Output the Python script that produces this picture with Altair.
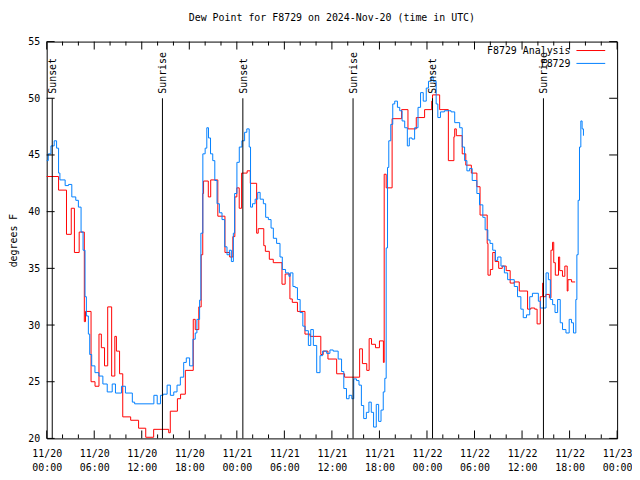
import altair as alt
import pandas as pd

# hours since 2024-11-20 00:00 UTC, dew point (F)
red_h = [0.0, 1.5, 2.5, 3.1, 3.5, 4.1, 4.75, 4.9, 5.6, 6.1, 6.6, 6.9, 7.3, 7.7, 8.2, 8.6, 8.8, 9.2, 9.6,
         10.6, 11.6, 12.5, 13.5, 15.4, 15.6, 16.5, 16.9, 17.5, 18.5, 18.75, 19.2, 19.5, 19.7, 19.8, 20.4,
         20.7, 21.6, 22.5, 23.1, 23.5, 23.75, 24.0, 24.3, 24.6, 25.3, 25.7, 26.5, 26.7, 27.4, 27.6, 28.1,
         28.6, 29.7, 30.1, 30.7, 31.0, 31.65, 32.6, 33.25, 34.6, 34.9, 35.5, 36.6, 37.6, 39.5, 39.85,
         40.4, 40.7, 41.0, 41.5, 42.0, 42.5, 42.6, 42.85, 43.6, 44.8, 45.6, 46.65, 47.7, 48.6, 48.7, 49.6,
         50.7, 51.4, 51.5, 51.7, 52.45, 52.9, 53.6, 54.3, 54.7, 55.6, 55.7, 56.0, 56.3, 56.6, 57.05, 57.5,
         58.0, 58.5, 59.0, 59.65, 60.7, 61.1, 61.6, 61.9, 62.3, 62.6, 62.7, 63.0, 63.45, 63.65, 63.85,
         64.0, 64.2, 64.6, 64.75, 65.1, 65.4, 65.7, 65.8, 66.25, 66.7]
red_v = [43.1, 41.9, 38.0, 40.3, 36.4, 38.2, 30.3, 31.2, 25.0, 24.6, 29.2, 28.0, 26.4, 31.6, 25.5, 29.0, 27.7,
         25.7, 21.9, 21.6, 20.9, 20.1, 20.8, 20.5, 22.4, 23.5, 23.9, 26.0, 30.5, 29.6, 31.6, 36.2, 41.6,
         42.7, 41.3, 42.8, 39.6, 36.4, 36.0, 37.8, 41.3, 42.1, 40.3, 43.4, 43.6, 42.5, 38.1, 38.5, 37.0,
         36.5, 35.8, 35.5, 33.6, 34.5, 32.3, 32.0, 31.2, 29.2, 29.0, 27.4, 27.7, 27.0, 25.7, 25.4, 27.9,
         26.6, 26.0, 28.8, 28.3, 28.0, 28.6, 26.7, 43.3, 42.1, 48.2, 49.0, 47.3, 48.3, 49.0, 49.75, 50.3,
         49.0, 44.5, 46.6, 47.3, 46.7, 45.1, 44.1, 43.4, 42.2, 39.7, 37.2, 34.4, 34.9, 36.4, 35.6, 35.0,
         35.2, 34.8, 33.7, 33.8, 33.0, 31.4, 31.5, 31.4, 30.1, 32.5, 33.7, 32.5, 32.7, 32.4, 36.6, 37.3,
         35.5, 34.4, 36.0, 34.8, 34.3, 35.2, 33.0, 34.0, 33.8, 33.8]

blue_h = [0.0, 0.2, 0.54, 0.95, 1.25, 1.5, 1.67, 2.33, 2.76, 3.17, 3.67, 4.0, 4.34, 4.59, 4.84, 5.01, 5.26,
          5.43, 5.68, 6.09, 6.59, 7.09, 7.64, 8.27, 8.68, 9.44, 9.94, 10.81, 11.1, 13.53, 13.95, 14.36,
          14.7, 15.2, 15.61, 16.04, 16.45, 16.87, 17.29, 17.62, 18.04, 18.46, 18.75, 18.96, 19.3, 19.46,
          19.71, 20.0, 20.21, 20.42, 20.68, 20.96, 21.22, 21.5, 21.8, 22.13, 22.47, 22.76, 23.06, 23.31,
          23.56, 23.72, 24.01, 24.31, 24.64, 24.98, 25.26, 25.56, 25.73, 25.98, 26.31, 26.64, 26.94,
          27.35, 27.64, 27.98, 28.32, 28.61, 29.02, 29.45, 29.74, 30.15, 30.57, 30.74, 31.08, 31.37,
          31.65, 31.99, 32.33, 32.62, 33.03, 33.33, 33.66, 34.08, 34.5, 34.83, 35.34, 35.75, 36.16,
          36.79, 37.22, 37.5, 37.84, 38.17, 38.51, 38.76, 39.1, 39.42, 39.72, 40.01, 40.35, 40.67,
          40.97, 41.26, 41.6, 41.9, 42.2, 42.48, 42.68, 42.85, 43.02, 43.18, 43.43, 43.68, 43.93, 44.27,
          44.56, 44.86, 45.19, 45.52, 45.77, 46.11, 46.44, 46.87, 47.19, 47.53, 47.91, 48.19, 48.53,
          48.78, 49.16, 49.37, 49.7, 50.2, 51.04, 51.5, 52.13, 52.45, 52.75, 53.04, 53.38, 53.71, 54.3,
          54.63, 55.05, 55.34, 55.68, 55.96, 56.3, 56.64, 56.93, 57.34, 57.77, 58.18, 59.02, 59.43,
          59.85, 60.15, 60.56, 60.97, 61.31, 62.06, 62.31, 63.03, 63.32, 63.57, 63.86, 64.16, 64.49,
          64.82, 65.11, 65.54, 65.95, 66.24, 66.49, 66.79, 66.92, 67.08, 67.25, 67.42, 67.58, 67.75]
blue_v = [44.5, 45.1, 45.8, 46.25, 45.6, 43.4, 42.8, 42.3, 42.4, 41.3, 41.0, 40.4, 38.2, 36.6, 32.5, 30.8,
          29.2, 27.4, 26.4, 25.8, 25.5, 24.8, 24.1, 24.8, 24.0, 24.6, 24.0, 23.2, 23.05, 23.8, 23.05, 23.8,
          23.9, 24.7, 23.8, 24.1, 24.7, 25.4, 26.7, 27.1, 26.4, 28.75, 29.3, 30.5, 32.2, 38.1, 45.1, 45.6,
          47.4, 46.5, 45.1, 44.5, 42.75, 40.7, 39.9, 39.3, 36.9, 36.2, 36.6, 35.6, 38.1, 41.6, 44.35, 45.7,
          46.25, 47.0, 47.3, 45.7, 40.4, 40.7, 41.1, 41.7, 41.1, 40.7, 39.5, 39.3, 38.55, 37.65, 37.2,
          36.0, 34.9, 34.6, 34.3, 34.6, 33.4, 33.3, 32.25, 31.1, 29.9, 29.5, 28.2, 29.6, 28.2, 25.8, 27.3,
          27.7, 27.5, 27.8, 27.7, 27.0, 25.9, 24.4, 23.5, 23.8, 23.5, 25.25, 25.1, 24.7, 22.9, 21.75,
          22.3, 23.2, 22.3, 21.0, 23.0, 21.5, 22.5, 24.1, 25.3, 36.8, 43.9, 46.25, 47.7, 49.5, 49.75,
          49.2, 48.9, 48.0, 47.4, 45.8, 46.5, 46.4, 47.4, 49.2, 50.5, 49.75, 50.9, 51.5, 51.9, 51.5,
          49.5, 48.3, 48.8, 48.9, 48.8, 47.85, 47.4, 45.7, 44.5, 43.6, 43.8, 42.75, 41.6, 40.6, 39.5,
          38.4, 37.5, 37.2, 36.6, 35.7, 36.0, 35.2, 34.6, 34.0, 33.4, 32.5, 31.4, 30.65, 30.9, 32.5,
          32.8, 32.1, 31.5, 34.6, 34.0, 32.25, 31.8, 31.1, 32.25, 30.2, 29.6, 29.3, 30.5, 30.2, 29.3,
          32.25, 36.2, 41.0, 45.7, 48.0, 47.3, 46.7]

sun_h = [0.70, 14.61, 24.76, 38.67, 48.70, 62.70]
sun_label = ["Sunset", "Sunrise", "Sunset", "Sunrise", "Sunset", "Sunrise"]

x_major = list(range(0, 73, 6))
x_minor = [h for h in range(0, 73, 2) if h % 6]
y_major = list(range(20, 56, 5))

legend_names = ["F8729 Analysis", "F8729"]
legend_colors = ["#ff0000", "#0080ff"]

FONT = "DejaVu Sans Mono"
W, H = 575, 400
xs = alt.Scale(domain=[0, 72], nice=False, zero=False)
ys = alt.Scale(domain=[20, 55], nice=False, zero=False)

red_df = pd.DataFrame({"h": red_h, "v": red_v})
blue_df = pd.DataFrame({"h": blue_h, "v": blue_v})
sun_df = pd.DataFrame({"h": sun_h, "label": sun_label})
xmaj_df = pd.DataFrame({"h": x_major})
xmin_df = pd.DataFrame({"h": x_minor})
ymaj_df = pd.DataFrame({"v": y_major})

label_expr = ("['11/' + (20 + floor(datum.value / 24)), "
              "(datum.value % 24 < 10 ? '0' : '') + (datum.value % 24) + ':00']")

x_axis = alt.Axis(values=x_major, ticks=False, domain=False, grid=False, labelExpr=label_expr,
                  labelFont=FONT, labelFontSize=10, labelColor="black", labelPadding=10,
                  labelLineHeight=14, labelFlush=False, labelOverlap=False, title=None)
y_axis = alt.Axis(values=y_major, ticks=False, domain=False, grid=False, labelFont=FONT,
                  labelFontSize=10, labelColor="black", labelPadding=7, title="degrees F",
                  titleFont=FONT, titleFontSize=10, titleFontWeight="normal", titleColor="black",
                  titlePadding=9)

X = lambda: alt.X("h:Q", scale=xs, title=None)
Y = lambda: alt.Y("v:Q", scale=ys, title="degrees F")

red_line = alt.Chart(red_df).mark_line(interpolate="step-after", color="#ff0000", strokeWidth=1).encode(
    x=alt.X("h:Q", scale=xs, axis=x_axis, title=None),
    y=alt.Y("v:Q", scale=ys, axis=y_axis, title="degrees F"),
)
blue_line = alt.Chart(blue_df).mark_line(interpolate="step-after", color="#0080ff", strokeWidth=1).encode(
    x=X(), y=Y(),
)

sun_rules = alt.Chart(sun_df).mark_rule(color="black", strokeWidth=1).encode(
    x=X(), y=alt.datum(50), y2=alt.datum(20),
)
sun_text = alt.Chart(sun_df).mark_text(angle=270, align="left", baseline="middle", font=FONT,
                                        fontSize=10, color="black", dy=1).encode(
    x=X(), y=alt.datum(50.4), text="label:N",
)

bot_major = alt.Chart(xmaj_df).mark_rule(color="black").encode(x=X(), y=alt.value(H), y2=alt.value(H - 8))
top_major = alt.Chart(xmaj_df).mark_rule(color="black").encode(x=X(), y=alt.value(0), y2=alt.value(8))
bot_minor = alt.Chart(xmin_df).mark_rule(color="black").encode(x=X(), y=alt.value(H), y2=alt.value(H - 4))
top_minor = alt.Chart(xmin_df).mark_rule(color="black").encode(x=X(), y=alt.value(0), y2=alt.value(4))
left_major = alt.Chart(ymaj_df).mark_rule(color="black").encode(y=Y(), x=alt.value(0), x2=alt.value(8))
right_major = alt.Chart(ymaj_df).mark_rule(color="black").encode(y=Y(), x=alt.value(W), x2=alt.value(W - 8))

leg_df = pd.DataFrame({"name": legend_names, "color": legend_colors, "row": [0, 1]})
leg_text0 = alt.Chart(leg_df[leg_df.row == 0]).mark_text(
    align="right", baseline="middle", font=FONT, fontSize=10, color="black").encode(
    x=alt.value(528), y=alt.value(10), text="name:N")
leg_text1 = alt.Chart(leg_df[leg_df.row == 1]).mark_text(
    align="right", baseline="middle", font=FONT, fontSize=10, color="black").encode(
    x=alt.value(528), y=alt.value(23), text="name:N")
leg_line0 = alt.Chart(leg_df[leg_df.row == 0]).mark_rule(color=legend_colors[0]).encode(
    x=alt.value(534), x2=alt.value(563), y=alt.value(9))
leg_line1 = alt.Chart(leg_df[leg_df.row == 1]).mark_rule(color=legend_colors[1]).encode(
    x=alt.value(534), x2=alt.value(563), y=alt.value(22))

chart = alt.layer(
    red_line, blue_line, sun_rules, sun_text,
    bot_major, top_major, bot_minor, top_minor, left_major, right_major,
    leg_text0, leg_text1, leg_line0, leg_line1,
).properties(
    width=W, height=H,
    title=alt.TitleParams("Dew Point for F8729 on 2024-Nov-20 (time in UTC)", font=FONT, fontSize=10,
                          fontWeight="normal", color="black", anchor="middle", offset=14),
    autosize=alt.AutoSizeParams(type="none"),
    padding={"left": 39, "top": 32, "right": 15, "bottom": 32},
    background="white",
).configure_view(stroke="black", strokeWidth=1)

chart.save("out.html", embed_options={"renderer": "svg", "actions": False})
